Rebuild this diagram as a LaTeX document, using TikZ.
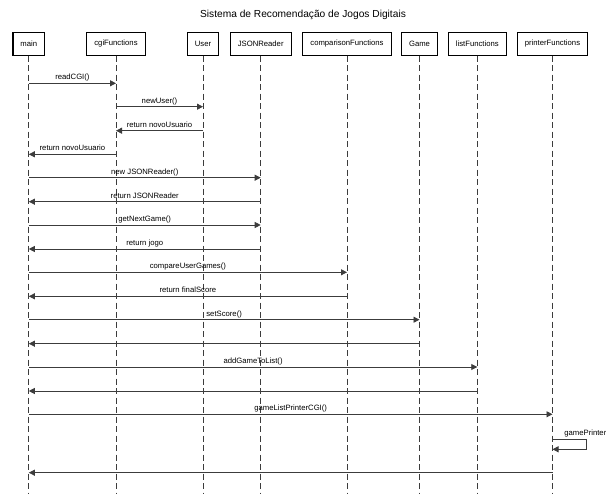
\documentclass[tikz,border=0pt]{standalone}
\usepackage{fontspec}
\setmainfont{Liberation Sans}
\usetikzlibrary{arrows.meta}

\definecolor{seqgray}{RGB}{60,60,60}
\tikzset{every picture/.style={line width=0.8pt}}
\tikzset{
    lifebox/.style={draw=black, fill=white, line width=1.1pt, minimum height=22.7pt, inner xsep=7.5pt, font=\fontsize{7.7}{9}\selectfont},
    lifeline/.style={draw=seqgray, dash pattern={on 6pt off 3.5pt}},
    msg/.style={draw=seqgray, -{Triangle[length=6pt,width=6pt]}},
    msglabel/.style={font=\fontsize{7.7}{9}\selectfont, anchor=base, yshift=3.3pt, inner sep=0pt, text=black}
}

\begin{document}
\begin{tikzpicture}[x=1pt,y=-1pt]
    \useasboundingbox[fill=white] (0,0) rectangle (606,494);
    \node[font=\fontsize{10.2}{12}\selectfont] (title) at (303,15) {Sistema de Recomendação de Jogos Digitais};

    % objetos
    \node[lifebox] (main) at (28.8,43.8) {main};
    \node[lifebox] (cgi) at (116,43.8) {cgiFunctions};
    \node[lifebox] (user) at (203,43.8) {User};
    \node[lifebox] (json) at (260.7,43.8) {JSONReader};
    \node[lifebox] (comp) at (347,43.8) {comparisonFunctions};
    \node[lifebox] (game) at (419.5,43.8) {Game};
    \node[lifebox] (list) at (477.3,43.8) {listFunctions};
    \node[lifebox] (printer) at (552.5,43.8) {printerFunctions};

    % linhas de vida
    \draw[lifeline] (main.south) -- (main |- 0,494);
    \draw[lifeline] (cgi.south) -- (cgi |- 0,494);
    \draw[lifeline] (user.south) -- (user |- 0,494);
    \draw[lifeline] (json.south) -- (json |- 0,494);
    \draw[lifeline] (comp.south) -- (comp |- 0,494);
    \draw[lifeline] (game.south) -- (game |- 0,494);
    \draw[lifeline] (list.south) -- (list |- 0,494);
    \draw[lifeline] (printer.south) -- (printer |- 0,494);

    % mensagens
    \draw[msg] (main |- 0,83.3) -- node[msglabel] {readCGI()} (cgi |- 0,83.3);
    \draw[msg] (cgi |- 0,106.7) -- node[msglabel] {newUser()} (user |- 0,106.7);
    \draw[msg] (user |- 0,130.7) -- node[msglabel] {return novoUsuario} (cgi |- 0,130.7);
    \draw[msg] (cgi |- 0,154.3) -- node[msglabel] {return novoUsuario} (main |- 0,154.3);
    \draw[msg] (main |- 0,177.7) -- node[msglabel] {new JSONReader()} (json |- 0,177.7);
    \draw[msg] (json |- 0,201.7) -- node[msglabel] {return JSONReader} (main |- 0,201.7);
    \draw[msg] (main |- 0,225) -- node[msglabel] {getNextGame()} (json |- 0,225);
    \draw[msg] (json |- 0,249) -- node[msglabel] {return jogo} (main |- 0,249);
    \draw[msg] (main |- 0,272.3) -- node[msglabel] {compareUserGames()} (comp |- 0,272.3);
    \draw[msg] (comp |- 0,296.3) -- node[msglabel] {return finalScore} (main |- 0,296.3);
    \draw[msg] (main |- 0,319.7) -- node[msglabel] {setScore()} (game |- 0,319.7);
    \draw[msg] (game |- 0,343.7) -- (main |- 0,343.7);
    \draw[msg] (main |- 0,367) -- node[msglabel] {addGameToList()} (list |- 0,367);
    \draw[msg] (list |- 0,391) -- (main |- 0,391);
    \draw[msg] (main |- 0,414.3) -- node[msglabel] {gameListPrinterCGI()} (printer |- 0,414.3);

    % auto-chamada
    \coordinate (loopout) at (586.6,439);
    \coordinate (loopin) at (586.6,449.3);
    \draw[msg] (printer |- loopout) -- (loopout) -- (loopin) -- (printer |- loopin);
    \node[font=\fontsize{7.7}{9}\selectfont, anchor=base west, inner sep=0pt] (selfmsg) at (564,435.7) {gamePrinter()};

    \draw[msg] (printer |- 0,472.7) -- (main |- 0,472.7);
\end{tikzpicture}
\end{document}
